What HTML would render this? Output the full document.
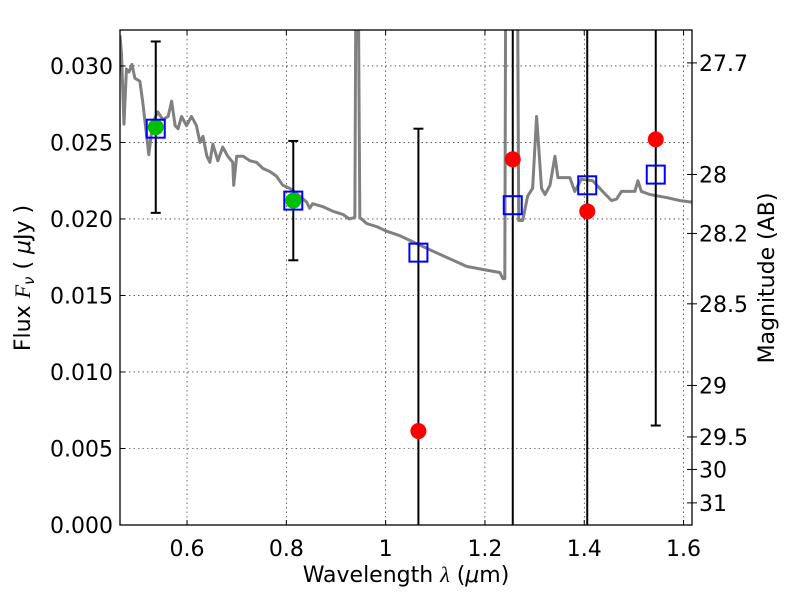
<!DOCTYPE html>
<html><head><meta charset="utf-8"><style>
html,body{margin:0;padding:0;background:#fff;width:800px;height:600px;overflow:hidden;}
svg{display:block;font-family:"DejaVu Sans","Liberation Sans",sans-serif;}
</style></head><body>
<svg id="chart" width="800" height="600" viewBox="0 0 800 600">
<defs><clipPath id="clip"><rect x="120" y="30" width="572" height="495"/></clipPath></defs>
<rect x="0" y="0" width="800" height="600" fill="#fff"/>
<g id="grid"></g>
<g id="spec" clip-path="url(#clip)"></g>
<g id="errs" clip-path="url(#clip)"></g>
<g id="marks" clip-path="url(#clip)"></g>
<rect x="120" y="30" width="572" height="495" fill="none" stroke="#000" stroke-width="1.3"/>
<g id="ticks"></g>
<text x="406" y="582" font-size="22" text-anchor="middle">Wavelength  <tspan font-style="italic" font-family="Liberation Serif,serif">λ</tspan> (<tspan font-style="italic">μ</tspan>m)</text>
<text transform="translate(30,278) rotate(-90)" font-size="22" text-anchor="middle">Flux  <tspan font-style="italic" font-family="Liberation Serif,serif">F</tspan><tspan font-style="italic" font-size="15" dy="4">ν</tspan><tspan dy="-4">  ( </tspan><tspan font-style="italic">μ</tspan>Jy )</text>
<text transform="translate(774,278) rotate(-90)" font-size="22" text-anchor="middle">Magnitude (AB)</text>
</svg>
<script>
const specLam=[0.465,0.468,0.473,0.478,0.483,0.489,0.495,0.505,0.511,0.517,0.523,0.531,0.541,0.551,0.562,0.569,0.576,0.582,0.589,0.599,0.609,0.619,0.626,0.632,0.640,0.646,0.652,0.662,0.672,0.682,0.692,0.694,0.700,0.713,0.727,0.740,0.753,0.767,0.780,0.793,0.807,0.827,0.841,0.847,0.853,0.874,0.894,0.914,0.927,0.938,0.942,0.948,0.962,0.982,1.002,1.029,1.062,1.095,1.129,1.163,1.196,1.230,1.236,1.240,1.244,1.262,1.268,1.276,1.286,1.296,1.304,1.314,1.321,1.331,1.341,1.347,1.364,1.371,1.381,1.394,1.417,1.437,1.455,1.465,1.475,1.492,1.502,1.508,1.515,1.532,1.566,1.593,1.616];
const specFlux=[0.0320,0.0308,0.0262,0.0298,0.0296,0.0301,0.0292,0.0290,0.0276,0.0259,0.0242,0.0263,0.0270,0.0265,0.0267,0.0277,0.0261,0.0259,0.0267,0.0261,0.0267,0.0261,0.0250,0.0254,0.0241,0.0237,0.0249,0.0238,0.0247,0.0241,0.0237,0.0222,0.0241,0.0241,0.0238,0.0237,0.0233,0.0231,0.0228,0.0222,0.0220,0.0215,0.0211,0.0207,0.0210,0.0208,0.0205,0.0203,0.0200,0.0201,0.0500,0.0201,0.0197,0.0195,0.0192,0.0189,0.0184,0.0179,0.0174,0.0169,0.0167,0.0165,0.0161,0.0161,0.0600,0.0600,0.0199,0.0199,0.0215,0.0220,0.0267,0.0220,0.0216,0.0222,0.0241,0.0227,0.0227,0.0227,0.0218,0.0226,0.0225,0.0218,0.0212,0.0213,0.0218,0.0218,0.0218,0.0225,0.0218,0.0216,0.0214,0.0212,0.0211];
const bandLam=[0.537,0.814,1.066,1.256,1.406,1.544];
const modelFlux=[0.0259,0.0212,0.0178,0.0209,0.0222,0.0229];
const obsFlux=[0.0260,0.0212,0.00614,0.0239,0.0205,0.0252];
const errHi=[0.0316,0.0251,0.0259,0.06,0.06,0.06];
const errLo=[0.0204,0.0173,-0.01,-0.01,-0.01,0.0065];
const detected=[true,true,false,false,false,false];
const xTicks=[0.6,0.8,1.0,1.2,1.4,1.6];
const xTickLabels=["0.6","0.8","1","1.2","1.4","1.6"];
const yTicks=[0,0.005,0.010,0.015,0.020,0.025,0.030];
const yTickLabels=["0.000","0.005","0.010","0.015","0.020","0.025","0.030"];
const magTicks=[27.7,28,28.2,28.5,29,29.5,30,31];
const magTickLabels=["27.7","28","28.2","28.5","29","29.5","30","31"];

const X0=120,X1=692,Y0=525,Y1=30,LMIN=0.465,LMAX=1.617,FMIN=0,FMAX=0.03235;
const sx=l=>X0+(l-LMIN)/(LMAX-LMIN)*(X1-X0);
const sy=f=>Y0-(f-FMIN)/(FMAX-FMIN)*(Y0-Y1);
const NS="http://www.w3.org/2000/svg";
function mk(tag,attrs,parent){const e=document.createElementNS(NS,tag);for(const k in attrs)e.setAttribute(k,attrs[k]);parent.appendChild(e);return e;}
const grid=document.getElementById('grid'),ticks=document.getElementById('ticks');
xTicks.forEach((v,i)=>{const x=sx(v);
 const g=mk('line',{x1:x,x2:x,y1:Y1,y2:Y0,stroke:'#000','stroke-width':0.6,'stroke-dasharray':'1.5,3'},grid);
 
 
 mk('line',{x1:x,x2:x,y1:Y0,y2:Y0-5,stroke:'#000'},ticks);
 mk('line',{x1:x,x2:x,y1:Y1,y2:Y1+5,stroke:'#000'},ticks);
 const t=mk('text',{x:x,y:556,'font-size':22,'text-anchor':'middle'},ticks);t.textContent=xTickLabels[i];
 
 
});
yTicks.forEach((v,i)=>{const y=sy(v);
 const g=mk('line',{x1:X0,x2:X1,y1:y,y2:y,stroke:'#000','stroke-width':0.6,'stroke-dasharray':'1.5,3'},grid);
 
 
 mk('line',{x1:X0,x2:X0+5,y1:y,y2:y,stroke:'#000'},ticks);
 const t=mk('text',{x:113,y:y+8,'font-size':22,'text-anchor':'end'},ticks);t.textContent=yTickLabels[i];
 
 
});
magTicks.forEach((m,i)=>{const f=Math.pow(10,(23.9-m)/2.5);const y=sy(f);
 mk('line',{x1:X1-5,x2:X1+5,y1:y,y2:y,stroke:'#000'},ticks);
 const t=mk('text',{x:699,y:y+8,'font-size':22,'text-anchor':'start'},ticks);t.textContent=magTickLabels[i];
 
 
});
const spec=document.getElementById('spec');
const p=mk('polyline',{points:specLam.map((l,i)=>sx(l)+','+sy(specFlux[i])).join(' '),fill:'none',stroke:'#808080','stroke-width':3,'stroke-linejoin':'round'},spec);


const errs=document.getElementById('errs'),marks=document.getElementById('marks');
bandLam.forEach((l,i)=>{const x=sx(l);
 const e=mk('line',{x1:x,x2:x,y1:sy(errHi[i]),y2:sy(errLo[i]),stroke:'#000','stroke-width':2},errs);
 
 
 [errHi[i],errLo[i]].forEach(v=>{if(v<FMAX&&v>FMIN)mk('line',{x1:x-5,x2:x+5,y1:sy(v),y2:sy(v),stroke:'#000','stroke-width':2},errs);});
});
bandLam.forEach((l,i)=>{const x=sx(l);
 const c=mk('circle',{cx:x,cy:sy(obsFlux[i]),r:8,fill:detected[i]?'#00bf00':'#ff0000'},marks);
 
 
 const s=mk('rect',{x:x-9,y:sy(modelFlux[i])-9,width:18,height:18,fill:'none',stroke:'#0000ff','stroke-width':2},marks);
 
 
});
</script>
</body></html>
